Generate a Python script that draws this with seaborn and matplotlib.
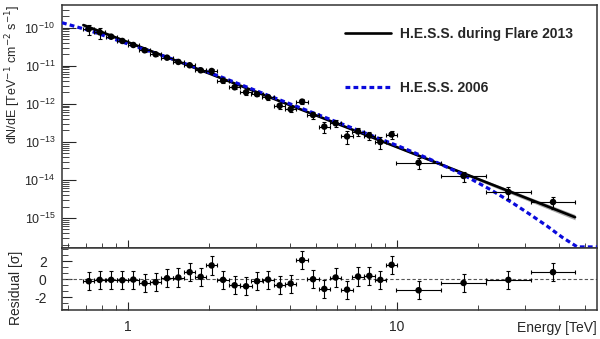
import numpy as np
import matplotlib
matplotlib.use('Agg')
import matplotlib.pyplot as plt
from matplotlib.ticker import LogLocator, MultipleLocator, NullFormatter, FixedLocator
import seaborn as sns

# spectral points, H.E.S.S. during flare 2013
energy = [0.714, 0.784, 0.865, 0.952, 1.046, 1.152, 1.266, 1.396, 1.538, 1.694,
          1.862, 2.045, 2.255, 2.490, 2.746, 3.016, 3.315, 3.661, 4.023, 4.436,
          4.873, 5.366, 5.911, 6.520, 7.161, 7.888, 8.668, 9.548,
          12.03, 17.68, 25.94, 38.02]
flux = [9.25e-11, 7.57e-11, 5.81e-11, 4.48e-11, 3.51e-11, 2.55e-11, 2.00e-11, 1.63e-11,
        1.26e-11, 1.03e-11, 7.60e-12, 7.28e-12, 4.05e-12, 2.72e-12, 2.01e-12, 1.79e-12,
        1.48e-12, 8.87e-13, 7.23e-13, 1.14e-12, 5.08e-13, 2.51e-13, 3.08e-13, 1.39e-13,
        1.87e-13, 1.47e-13, 9.93e-14, 1.56e-13, 2.84e-14, 1.27e-14, 4.82e-15, 2.63e-15]
flux_rel_err = [0.30, 0.32, 0.10, 0.08, 0.08, 0.08, 0.08, 0.09, 0.09, 0.10,
                0.10, 0.10, 0.11, 0.12, 0.13, 0.13, 0.14, 0.16, 0.17, 0.15,
                0.20, 0.30, 0.22, 0.35, 0.22, 0.25, 0.35, 0.22,
                0.30, 0.30, 0.35, 0.35]
bin_width_dex = [0.0417] * 28 + [0.167] * 4
residual = [-0.22, -0.07, -0.07, -0.11, -0.04, -0.44, -0.33, 0.11, 0.19, 0.78,
            0.26, 1.52, -0.07, -0.67, -0.78, -0.22, -0.04, -0.67, -0.48, 2.11,
            0.00, -1.07, 0.19, -1.15, 0.30, 0.37, -0.07, 1.59,
            -1.22, -0.41, -0.07, 0.78]

# fitted spectrum (flare 2013) with its error band
fit_energy = [0.682, 1.858, 10.29, 45.9]
fit_flux = [1.17e-10, 7.71e-12, 6.71e-14, 1.05e-15]
fit_band_dex = [0.05, 0.015, 0.02, 0.07]

# H.E.S.S. 2006 spectrum
ref_energy = [0.568, 0.714, 1.02, 1.50, 2.21, 3.38, 5.19, 7.31, 10.29, 13.3,
              17.68, 22.2, 27.1, 31.3, 36.1, 41.2, 46.8, 55.4]
ref_flux = [1.35e-10, 8.51e-11, 3.55e-11, 1.41e-11, 5.13e-12, 1.58e-12, 4.90e-13,
            1.91e-13, 7.41e-14, 3.47e-14, 1.35e-14, 5.62e-15, 2.40e-15, 1.23e-15,
            6.17e-16, 3.09e-16, 1.74e-16, 1.74e-16]

y_decades = [1e-15, 1e-14, 1e-13, 1e-12, 1e-11, 1e-10]

sns.set_theme(style='ticks')
plt.rcParams['font.family'] = ['Liberation Sans', 'DejaVu Sans']
plt.rcParams['axes.edgecolor'] = '#333333'
plt.rcParams['axes.linewidth'] = 1.1
plt.rcParams['axes.unicode_minus'] = False

fig = plt.figure(figsize=(6, 3.39), dpi=100)
ax = fig.add_axes([62 / 600, 1 - 248 / 339, 535 / 600, 243 / 339])
axr = fig.add_axes([62 / 600, 1 - 310 / 339, 535 / 600, 62 / 339], sharex=ax)

e = np.array(energy)
f = np.array(flux)
hw = np.array(bin_width_dex) / 2
xerr = [e - e * 10 ** (-hw), e * 10 ** hw - e]
yerr = f * np.array(flux_rel_err)

# error band + lines
fe = np.array(fit_energy)
ff = np.array(fit_flux)
bd = np.array(fit_band_dex)
ax.fill_between(fe, ff * 10 ** (-bd), ff * 10 ** bd, color='#aaaaaa', lw=0, zorder=1)
sns.lineplot(x=fit_energy, y=fit_flux, ax=ax, color='black', lw=1.9, sort=False,
             estimator=None, label='H.E.S.S. during Flare 2013', zorder=3)
sns.lineplot(x=ref_energy, y=ref_flux, ax=ax, color='#0a0adc', lw=2.3, sort=False,
             estimator=None, label='H.E.S.S. 2006', zorder=4)
ax.lines[-1].set_dashes((1.5, 1.0))

ax.errorbar(e, f, xerr=xerr, yerr=yerr, fmt='none', ecolor='black', elinewidth=0.8,
            capsize=1.5, capthick=0.8, zorder=5)
sns.scatterplot(x=energy, y=flux, ax=ax, color='black', s=22, edgecolor='none', zorder=6)

ax.set_xscale('log')
ax.set_yscale('log')
ax.set_xlim(0.568, 55.4)
ax.set_ylim(1.63e-16, 3.94e-10)

ax.legend(loc='center left', bbox_to_anchor=(345 / 600, 1 - 61 / 339),
          bbox_transform=fig.transFigure, frameon=False, borderpad=0, borderaxespad=0,
          handlelength=3.3, handletextpad=0.65, labelspacing=2.85,
          prop={'weight': 'bold', 'size': 10})

ax.yaxis.set_major_locator(FixedLocator(y_decades))
ax.yaxis.set_minor_locator(LogLocator(base=10, subs=np.arange(2, 10), numticks=20))
ax.tick_params(axis='y', which='major', direction='in', length=10, width=0.8,
               labelsize=9, pad=5, right=False)
ax.tick_params(axis='y', which='minor', direction='in', length=5, width=0.6, right=False)
ax.tick_params(axis='x', which='major', direction='in', length=6, width=0.8,
               labelbottom=False, top=False)
ax.tick_params(axis='x', which='minor', direction='in', length=3.5, width=0.6, top=False)
ax.set_xlabel('')
ax.set_ylabel(r'dN/dE [TeV$^{-1}$ cm$^{-2}$ s$^{-1}$]', loc='top', fontsize=9)
ax.yaxis.set_label_coords(-0.072, 1.0)

# residual panel
axr.axhline(0, ls=(0, (3, 2)), color='#555555', lw=0.8, zorder=1)
axr.errorbar(e, residual, xerr=xerr, yerr=1.0, fmt='none', ecolor='black',
             elinewidth=0.8, capsize=1.5, capthick=0.8, zorder=3)
sns.scatterplot(x=energy, y=residual, ax=axr, color='black', s=22, edgecolor='none',
                zorder=4)
axr.set_ylim(-3.4, 3.45)
axr.yaxis.set_major_locator(FixedLocator([-2, 0, 2]))
axr.yaxis.set_minor_locator(MultipleLocator(2 / 3))
axr.xaxis.set_major_locator(LogLocator(base=10, numticks=10))
axr.xaxis.set_minor_locator(LogLocator(base=10, subs=np.arange(2, 10), numticks=10))
axr.xaxis.set_minor_formatter(NullFormatter())
axr.tick_params(axis='y', which='major', direction='in', length=7, width=0.8,
                labelsize=10, pad=11, right=False)
axr.tick_params(axis='y', which='minor', direction='in', length=4, width=0.6, right=False)
axr.tick_params(axis='x', which='major', direction='in', length=6, width=0.8,
                labelsize=10, pad=7, top=False)
axr.tick_params(axis='x', which='minor', direction='in', length=3.5, width=0.6, top=False)
axr.set_xticks([1, 10], ['1', '10'])
axr.set_xlim(0.568, 55.4)
axr.set_xlabel('Energy [TeV]', loc='right', fontsize=10)
axr.xaxis.set_label_coords(1.0, -0.18)
axr.set_ylabel('Residual [σ]', fontsize=10)
axr.yaxis.set_label_coords(-0.072, 0.35)

fig.savefig('out.png', dpi=100, facecolor='white')
